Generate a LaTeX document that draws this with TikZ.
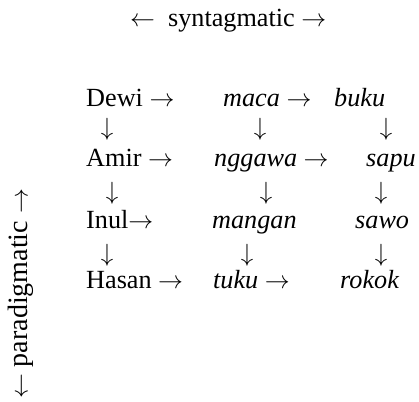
\documentclass[tikz,border=0pt]{standalone}
\usepackage{fontspec}
\setmainfont{Liberation Serif}
\begin{document}
\begin{tikzpicture}[x=1pt,y=-1pt,
  big/.style={inner sep=0pt,font=\fontsize{26.2}{31}\selectfont},
  word/.style={big,anchor=base west},
  darr/.style={big,anchor=center}]
\useasboundingbox (0,0) rectangle (419,401);
% axis labels
\node[word] (synt) at (130,27) {$\leftarrow$\hspace{0.5em}syntagmatic $\rightarrow$};
\node[inner sep=0pt,font=\fontsize{28}{33}\selectfont,rotate=90] (para) at (21,294) {$\leftarrow$ paradigmatic $\rightarrow$};
% row 1
\node[word] (dewi) at (86,106) {Dewi $\rightarrow$};
\node[word] (maca) at (223,106) {\itshape maca\/ $\rightarrow$};
\node[word] (buku) at (334,106) {\itshape buku};
\node[darr] (d11) at (107,129) {$\downarrow$};
\node[darr] (d12) at (260,129) {$\downarrow$};
\node[darr] (d13) at (386,129) {$\downarrow$};
% row 2
\node[word] (amir) at (86,166) {Amir $\rightarrow$};
\node[word] (nggawa) at (214,166) {\itshape nggawa\/ $\rightarrow$};
\node[word] (sapu) at (366,166) {\itshape sapu};
\node[darr] (d21) at (112,193) {$\downarrow$};
\node[darr] (d22) at (266,193) {$\downarrow$};
\node[darr] (d23) at (381,193) {$\downarrow$};
% row 3
\node[word] (inul) at (86,228) {Inul$\rightarrow$};
\node[word] (mangan) at (212,228) {\itshape mangan};
\node[word] (sawo) at (355,228) {\itshape sawo};
\node[darr] (d31) at (107,255) {$\downarrow$};
\node[darr] (d32) at (247,255) {$\downarrow$};
\node[darr] (d33) at (381,255) {$\downarrow$};
% row 4
\node[word] (hasan) at (86,288) {Hasan $\rightarrow$};
\node[word] (tuku) at (213,288) {\itshape tuku\/ $\rightarrow$};
\node[word] (rokok) at (340,288) {\itshape rokok};
\end{tikzpicture}
\end{document}
